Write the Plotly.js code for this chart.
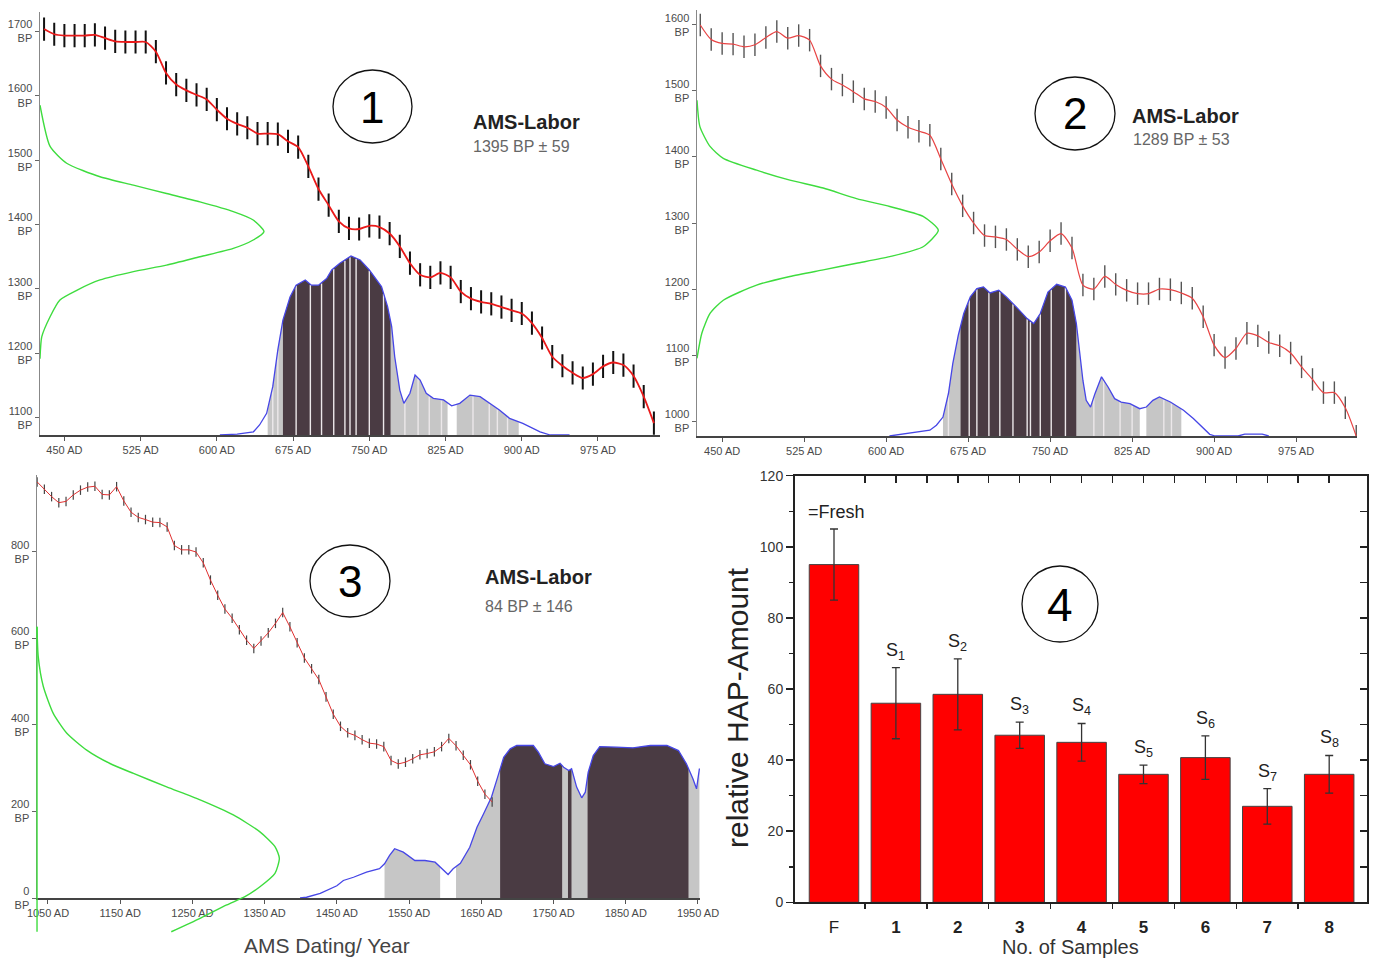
<!DOCTYPE html>
<html><head><meta charset="utf-8">
<script src="https://cdn.plot.ly/plotly-3.0.1.min.js"></script>
<style>html,body{margin:0;padding:0;background:#fff}#chart{width:1374px;height:961px}</style>
</head><body><div id="chart"></div>
<script>
// ================= DATA =================
// Panel 1 – calibration curve (AD year -> BP)
const p1Years = [430,440,450,460,470,480,490,500,510,520,530,540,550,560,570,580,590,600,610,620,630,640,650,660,670,680,690,700,710,720,730,740,750,760,770,780,790,800,810,820,830,840,850,860,870,880,890,900,910,920,930,940,950,960,970,980,990,1000,1010,1020,1030];
const p1BP = [1703,1695,1693,1693,1693,1694,1689,1684,1683,1683,1683,1668,1635,1617,1608,1601,1594,1578,1564,1556,1550,1541,1541,1540,1529,1520,1490,1455,1430,1405,1394,1393,1398,1396,1386,1366,1340,1322,1318,1325,1318,1296,1285,1280,1277,1272,1267,1262,1247,1224,1195,1181,1170,1162,1168,1180,1186,1182,1165,1133,1092];
// Panel 1 – measured date (BP, relative probability)
const p1GreenBP = [1585,1521,1495,1474,1461,1448,1435,1420,1407,1389,1376,1363,1350,1337,1327,1314,1298,1283,1257,1226,1192];
const p1GreenProb = [0,0.045,0.119,0.268,0.417,0.565,0.714,0.863,0.952,1.0,0.952,0.863,0.714,0.565,0.417,0.268,0.164,0.089,0.045,0.008,0];
// Panel 1 – calibrated distribution (AD year, relative probability)
const p1DistYears = [603,620,636,642,649,655,660,665,672,678,687,693,700,708,713,721,732,741,750,762,768,772,775,780,784,790,795,800,806,813,823,831,839,849,859,868,878,888,901,918,928,947];
const p1DistProb = [0,0.005,0.018,0.056,0.121,0.270,0.475,0.642,0.771,0.837,0.866,0.837,0.837,0.874,0.922,0.959,1.0,0.978,0.922,0.829,0.717,0.605,0.437,0.251,0.177,0.233,0.335,0.307,0.233,0.205,0.196,0.163,0.177,0.223,0.214,0.177,0.140,0.093,0.065,0.018,0,0];
const p1Dark = [[665,771]];
const p1Grey = [[650,665],[771,827],[836,897]];
const p1Stripes = [655,660,678,692,703,715,726,731,737,750,764,785,798,809,821,852,868,876,886];
const p1XTicks = [450,525,600,675,750,825,900,975];
const p1YTicks = [1100,1200,1300,1400,1500,1600,1700];

// Panel 2
const p2Years = [430,440,450,460,470,480,490,500,510,520,530,540,550,560,570,580,590,600,610,620,630,640,650,660,670,680,690,700,710,720,730,740,750,760,770,780,790,800,810,820,830,840,850,860,870,880,890,900,910,920,930,940,950,960,970,980,990,1000,1010,1020,1030];
const p2BP = [1600,1578,1572,1571,1567,1570,1581,1590,1580,1584,1577,1538,1518,1509,1499,1488,1484,1475,1456,1445,1439,1433,1397,1359,1326,1300,1281,1279,1275,1260,1249,1256,1273,1284,1262,1206,1200,1219,1207,1198,1193,1193,1200,1199,1194,1186,1158,1115,1096,1110,1133,1129,1119,1114,1103,1082,1063,1043,1043,1020,977];
const p2GreenBP = [1486,1446,1416,1398,1380,1365,1353,1337,1325,1310,1289,1264,1249,1239,1229,1219,1206,1183,1163,1133,1095];
const p2GreenProb = [0,0.012,0.054,0.109,0.247,0.385,0.523,0.661,0.799,0.937,1.0,0.937,0.799,0.661,0.523,0.385,0.247,0.109,0.054,0.020,0];
const p2DistYears = [603,628,640,646,652,657,661,666,671,677,683,689,695,703,710,719,729,735,741,748,756,764,770,774,777,780,783,787,791,797,803,809,815,823,832,838,844,850,860,872,881,890,896,901,922,928,944,950];
const p2DistProb = [0,0.026,0.038,0.071,0.125,0.280,0.478,0.664,0.807,0.917,0.972,0.983,0.943,0.961,0.917,0.851,0.774,0.741,0.807,0.949,1.0,0.982,0.895,0.741,0.543,0.366,0.235,0.191,0.279,0.390,0.323,0.246,0.224,0.213,0.180,0.191,0.235,0.257,0.224,0.170,0.115,0.049,0.011,0,0,0.012,0.012,0];
const p2Dark = [[668,774]];
const p2Grey = [[652,668],[774,832],[838,870]];
const p2Stripes = [657,676,683,694,704,716,729,732,741,751,764,790,799,814,825,854,861];
const p2XTicks = [450,525,600,675,750,825,900,975];
const p2YTicks = [1000,1100,1200,1300,1400,1500,1600];

// Panel 3
const p3Years = [1035,1045,1055,1065,1075,1085,1095,1105,1115,1125,1135,1145,1155,1165,1175,1185,1195,1205,1215,1225,1235,1245,1255,1265,1275,1285,1295,1305,1315,1325,1335,1345,1355,1365,1375,1385,1395,1405,1415,1425,1435,1445,1455,1465,1475,1485,1495,1505,1515,1525,1535,1545,1555,1565,1575,1585,1595,1605,1615,1625,1635,1645,1655,1665];
const p3BP = [962,945,928,914,917,932,943,950,952,933,932,951,918,892,880,875,869,868,858,815,805,805,800,775,735,700,668,647,620,596,577,594,613,635,660,627,590,555,530,505,465,425,397,382,376,366,358,356,350,318,310,314,322,331,334,338,350,369,352,330,308,270,240,222];
const p3GreenBP = [627,558,489,427,381,342,311,288,257,227,192,153,119,92,57,26,3,-16,-47,-78];
const p3GreenProb = [0,0.005,0.026,0.067,0.123,0.205,0.301,0.398,0.535,0.673,0.810,0.920,0.982,1.0,0.982,0.920,0.858,0.783,0.673,0.554];
const p3GreenBaseBP = [627,-78];
const p3GreenBaseProb = [0,0];
const p3DistYears = [1399,1408,1427,1441,1450,1459,1473,1491,1509,1516,1523,1530,1542,1558,1572,1586,1593,1604,1611,1621,1634,1644,1653,1664,1674,1681,1690,1699,1722,1729,1738,1750,1759,1764,1771,1775,1782,1789,1794,1798,1805,1814,1837,1860,1884,1907,1923,1934,1943,1948,1952];
const p3DistProb = [0,0.005,0.03,0.06,0.08,0.115,0.136,0.169,0.192,0.224,0.279,0.323,0.301,0.246,0.246,0.235,0.202,0.154,0.192,0.228,0.333,0.464,0.551,0.661,0.814,0.923,0.978,1.0,1.0,0.956,0.880,0.862,0.884,0.858,0.836,0.847,0.727,0.657,0.694,0.825,0.934,0.993,0.989,0.985,1.0,1.0,0.967,0.880,0.782,0.716,0.849];
const p3Dark = [[1676,1762],[1770,1775],[1797,1937]];
const p3Grey = [[1516,1593],[1615,1676],[1762,1770],[1775,1797],[1937,1952]];
const p3XTicks = [1050,1150,1250,1350,1450,1550,1650,1750,1850,1950];
const p3YTicks = [0,200,400,600,800];

// Panel 4 – bar chart
const hapCats = ['F','1','2','3','4','5','6','7','8'];
const hapValues = [95,56,58.5,47,45,36,40.7,27,36];
const hapErrors = [10,10,10,3.7,5.3,2.6,6.1,5,5.3];
const hapLabels = ['','S<sub>1</sub>','S<sub>2</sub>','S<sub>3</sub>','S<sub>4</sub>','S<sub>5</sub>','S<sub>6</sub>','S<sub>7</sub>','S<sub>8</sub>'];

// ================= HELPERS =================
const NARROW = "'Liberation Sans Narrow','Liberation Sans',Arial,sans-serif";
const SANS = "'Liberation Sans',Arial,sans-serif";
const W = 1374, H = 961;
const PX = p => p / W;
const PY = p => 1 - p / H;

function interp(xs, ys, x) {
  for (let i = 0; i < xs.length - 1; i++) {
    if (x >= xs[i] && x <= xs[i + 1]) {
      const t = (x - xs[i]) / (xs[i + 1] - xs[i]);
      return ys[i] + t * (ys[i + 1] - ys[i]);
    }
  }
  return 0;
}
function seg(xs, ys, a, b) {
  const X = [a], Y = [interp(xs, ys, a)];
  for (let i = 0; i < xs.length; i++) if (xs[i] > a && xs[i] < b) { X.push(xs[i]); Y.push(ys[i]); }
  X.push(b); Y.push(interp(xs, ys, b));
  return {X, Y};
}
const traces = [];
function shade(ranges, color, xs, ys, xa, ya) {
  ranges.forEach(r => {
    const s = seg(xs, ys, r[0], r[1]);
    traces.push({x: s.X, y: s.Y, xaxis: xa, yaxis: ya, mode: 'none', fill: 'tozeroy', fillcolor: color, type: 'scatter', hoverinfo: 'skip'});
  });
}
function stripeTrace(list, xs, ys, xa, ya) {
  const X = [], Y = [];
  list.forEach(s => { X.push(s, s, null); Y.push(0, interp(xs, ys, s) - 0.004, null); });
  traces.push({x: X, y: Y, xaxis: xa, yaxis: ya, mode: 'lines', line: {color: '#ece8ea', width: 1.4}, type: 'scatter'});
}
function calPanel(o) {
  shade(o.grey, '#c6c6c6', o.dx, o.dy, o.xa, o.ya);
  shade(o.dark, '#4a3b43', o.dx, o.dy, o.xa, o.ya);
  if (o.stripes) stripeTrace(o.stripes, o.dx, o.dy, o.xa, o.ya);
  traces.push({x: o.dx, y: o.dy, xaxis: o.xa, yaxis: o.ya, mode: 'lines', line: {color: '#4646e6', width: 1.3}, type: 'scatter'});
  traces.push({x: o.cx, y: o.cy, xaxis: o.xa, yaxis: o.yb, mode: 'markers', marker: {size: 1, color: 'rgba(0,0,0,0)'},
    error_y: {type: 'constant', value: o.err, color: o.errColor, thickness: o.errW, width: 0}, type: 'scatter'});
  traces.push({x: o.cx, y: o.cy, xaxis: o.xa, yaxis: o.yb, mode: 'lines', line: {color: o.red, width: o.redW, shape: o.shape, smoothing: 0.7}, type: 'scatter'});
  traces.push({x: o.gp, y: o.gb, xaxis: o.xg, yaxis: o.yg, mode: 'lines', line: {color: '#3edc3e', width: 1.4, shape: 'spline', smoothing: 0.6}, type: 'scatter'});
}

calPanel({xa: 'x', ya: 'y', yb: 'y2', xg: 'x2', yg: 'y2', dx: p1DistYears, dy: p1DistProb, dark: p1Dark, grey: p1Grey, stripes: p1Stripes,
  cx: p1Years, cy: p1BP, err: 18, errColor: '#111', errW: 2, red: '#ea1a1a', redW: 1.8, shape: 'spline', gp: p1GreenProb, gb: p1GreenBP});
calPanel({xa: 'x3', ya: 'y3', yb: 'y4', xg: 'x4', yg: 'y4', dx: p2DistYears, dy: p2DistProb, dark: p2Dark, grey: p2Grey, stripes: p2Stripes,
  cx: p2Years, cy: p2BP, err: 17, errColor: '#555', errW: 1.4, red: '#e84444', redW: 1.2, shape: 'spline', gp: p2GreenProb, gb: p2GreenBP});
calPanel({xa: 'x5', ya: 'y5', yb: 'y6', xg: 'x6', yg: 'y7', dx: p3DistYears, dy: p3DistProb, dark: p3Dark, grey: p3Grey, stripes: null,
  cx: p3Years, cy: p3BP, err: 11, errColor: '#444', errW: 1.2, red: '#e03030', redW: 1, shape: 'linear', gp: p3GreenProb, gb: p3GreenBP});
traces.push({x: p3GreenBaseProb, y: p3GreenBaseBP, xaxis: 'x6', yaxis: 'y7', mode: 'lines', line: {color: '#3edc3e', width: 1.4}, type: 'scatter'});

// Panel 4
const hapIdx = hapCats.map((c, i) => i);
traces.push({type: 'bar', x: hapIdx, y: hapValues, xaxis: 'x7', yaxis: 'y8', width: 0.8,
  marker: {color: '#ff0000', line: {color: '#444', width: 1}},
  error_y: {type: 'data', array: hapErrors, color: '#333', thickness: 1.3, width: 4}});
traces.push({x: [], y: [], xaxis: 'x8', yaxis: 'y8', type: 'scatter', mode: 'lines'});
traces.push({x: [], y: [], xaxis: 'x7', yaxis: 'y9', type: 'scatter', mode: 'lines'});

// ================= LAYOUT =================
const tickFont = {family: NARROW, size: 11, color: '#4a4a4a'};
function yearAxis(d0, d1, range, anchor, ticks) {
  return {domain: [PX(d0), PX(d1)], range: range, anchor: anchor, showline: true, linecolor: '#444', linewidth: 1.5,
    ticks: 'outside', ticklen: 4, tickcolor: '#555', tickvals: ticks, ticktext: ticks.map(v => v + ' AD'),
    tickfont: tickFont, showgrid: false, zeroline: false, fixedrange: true};
}
function probAxis(bot, top, range, anchor) {
  return {domain: [PY(bot), PY(top)], range: range, anchor: anchor, visible: false, showgrid: false, zeroline: false};
}
function bpAxis(overlay, anchor, range, ticks) {
  return {overlaying: overlay, anchor: anchor, side: 'left', range: range, showline: true, linecolor: '#888', linewidth: 1.5,
    ticks: 'outside', ticklen: 4, tickcolor: '#666', tickvals: ticks, ticktext: ticks.map(v => v + '<br>BP'),
    tickfont: tickFont, showgrid: false, zeroline: false};
}
function hidden(extra) { return Object.assign({visible: false, showgrid: false, zeroline: false}, extra); }

function ann(px, py, text, font, extra) {
  return Object.assign({xref: 'paper', yref: 'paper', x: PX(px), y: PY(py), text: text, showarrow: false, font: font,
    xanchor: 'center', yanchor: 'middle'}, extra || {});
}
const annotations = [
  ann(372.5, 107, '1', {family: SANS, size: 44, color: '#000'}),
  ann(1075, 114, '2', {family: SANS, size: 44, color: '#000'}),
  ann(350, 581, '3', {family: SANS, size: 44, color: '#000'}),
  ann(1060, 605, '4', {family: SANS, size: 46, color: '#000'}),
  ann(471, 122, '<b>AMS-Labor</b>', {family: SANS, size: 20, color: '#222'}, {xanchor: 'left'}),
  ann(471, 147, '1395 BP ± 59', {family: NARROW, size: 16, color: '#666'}, {xanchor: 'left'}),
  ann(1130, 116, '<b>AMS-Labor</b>', {family: SANS, size: 20, color: '#222'}, {xanchor: 'left'}),
  ann(1131, 140, '1289 BP ± 53', {family: NARROW, size: 16, color: '#666'}, {xanchor: 'left'}),
  ann(483, 577, '<b>AMS-Labor</b>', {family: SANS, size: 20, color: '#222'}, {xanchor: 'left'}),
  ann(483, 606, '84 BP ± 146', {family: NARROW, size: 16, color: '#666'}, {xanchor: 'left'}),
  ann(327, 945, 'AMS Dating/ Year', {family: SANS, size: 21, color: '#444'}),
  ann(737, 708, 'relative HAP-Amount', {family: SANS, size: 30, color: '#222'}, {textangle: -90}),
  ann(1070, 947, 'No. of Samples', {family: SANS, size: 20, color: '#333'}),
  ann(806, 512, '=Fresh', {family: SANS, size: 18, color: '#222'}, {xanchor: 'left'})
];
hapLabels.forEach((t, i) => {
  if (!t) return;
  annotations.push({xref: 'x7', yref: 'y8', x: i, y: hapValues[i] + hapErrors[i], text: t, showarrow: false,
    yanchor: 'bottom', yshift: 3, font: {family: SANS, size: 18, color: '#222'}});
});
function ell(x0, y0, x1, y1) {
  return {type: 'circle', xref: 'paper', yref: 'paper', x0: PX(x0), x1: PX(x1), y0: PY(y1), y1: PY(y0), line: {color: '#111', width: 1.3}};
}

const layout = {
  width: W, height: H, margin: {l: 0, r: 0, t: 0, b: 0}, paper_bgcolor: '#fff', plot_bgcolor: 'rgba(0,0,0,0)',
  showlegend: false, hovermode: false, font: {family: SANS, color: '#222'}, barmode: 'overlay',
  // panel 1
  xaxis: yearAxis(40, 660.4, [426, 1036.4], 'y', p1XTicks),
  yaxis: probAxis(435, 12, [0, 2.363], 'x'),
  yaxis2: bpAxis('y', 'x', [1073.6, 1729.5], p1YTicks),
  xaxis2: hidden({overlaying: 'x', range: [0, 2.770], anchor: 'y2'}),
  // panel 2
  xaxis3: yearAxis(697, 1357, [427, 1030.7], 'y3', p2XTicks),
  yaxis3: probAxis(436, 10, [0, 2.808], 'x3'),
  yaxis4: bpAxis('y3', 'x3', [977.3, 1622.7], p2YTicks),
  xaxis4: hidden({overlaying: 'x3', range: [0, 2.735], anchor: 'y4'}),
  // panel 3
  xaxis5: yearAxis(37, 700, [1034.8, 1952.8], 'y5', p3XTicks),
  yaxis5: probAxis(898, 475, [0, 2.774], 'x5'),
  yaxis6: bpAxis('y5', 'x5', [0, 978], p3YTicks),
  xaxis6: hidden({domain: [PX(34.6), PX(700)], range: [-0.01, 2.736], anchor: 'y7'}),
  yaxis7: hidden({domain: [PY(935), PY(475)], range: [-85.5, 978], anchor: 'x6'}),
  // panel 4
  xaxis7: {domain: [PX(795), PX(1366.7)], range: [-0.63, 8.606], anchor: 'y8', showline: true, linecolor: '#222', linewidth: 2,
    tickvals: hapIdx, ticktext: hapCats.map(c => c === 'F' ? c : '<b>' + c + '</b>'), ticks: '',
    tickfont: {family: SANS, size: 17, color: '#222'}, ticklabelstandoff: 8,
    minor: {tickmode: 'array', tickvals: [0.5, 1.5, 2.5, 3.5, 4.5, 5.5, 6.5, 7.5], ticks: 'outside', ticklen: 5, tickcolor: '#222', tickwidth: 1.5},
    showgrid: false, zeroline: false},
  yaxis8: {domain: [PY(902.3), PY(475.7)], range: [0, 120], anchor: 'x7', showline: true, linecolor: '#222', linewidth: 2,
    ticks: 'outside', ticklen: 7, tickwidth: 1.5, tickcolor: '#222', tick0: 0, dtick: 20,
    minor: {tick0: 0, dtick: 10, ticks: 'outside', ticklen: 4, tickwidth: 1.5, tickcolor: '#222'},
    tickfont: {family: SANS, size: 14, color: '#333'}, showgrid: false, zeroline: false},
  xaxis8: {overlaying: 'x7', side: 'top', anchor: 'y8', range: [-0.63, 8.606], showline: true, linecolor: '#222', linewidth: 2,
    ticks: 'inside', ticklen: 7, tickwidth: 1.5, tickcolor: '#222', tickvals: [0.5, 1, 1.5, 2, 2.5, 3, 3.5, 4, 4.5, 5, 5.5, 6, 6.5, 7, 7.5, 8],
    showticklabels: false, showgrid: false, zeroline: false},
  yaxis9: {overlaying: 'y8', side: 'right', anchor: 'x7', range: [0, 120], showline: true, linecolor: '#222', linewidth: 2,
    ticks: 'inside', ticklen: 7, tickwidth: 1.5, tickcolor: '#222', tick0: 0, dtick: 10, showticklabels: false, showgrid: false, zeroline: false},
  annotations: annotations,
  shapes: [ell(333, 70, 412, 143), ell(1035, 77, 1115, 150), ell(310, 545, 390, 617), ell(1022, 566, 1098, 642)]
};

Plotly.newPlot('chart', traces, layout, {staticPlot: true, displayModeBar: false});
</script>
</body></html>
